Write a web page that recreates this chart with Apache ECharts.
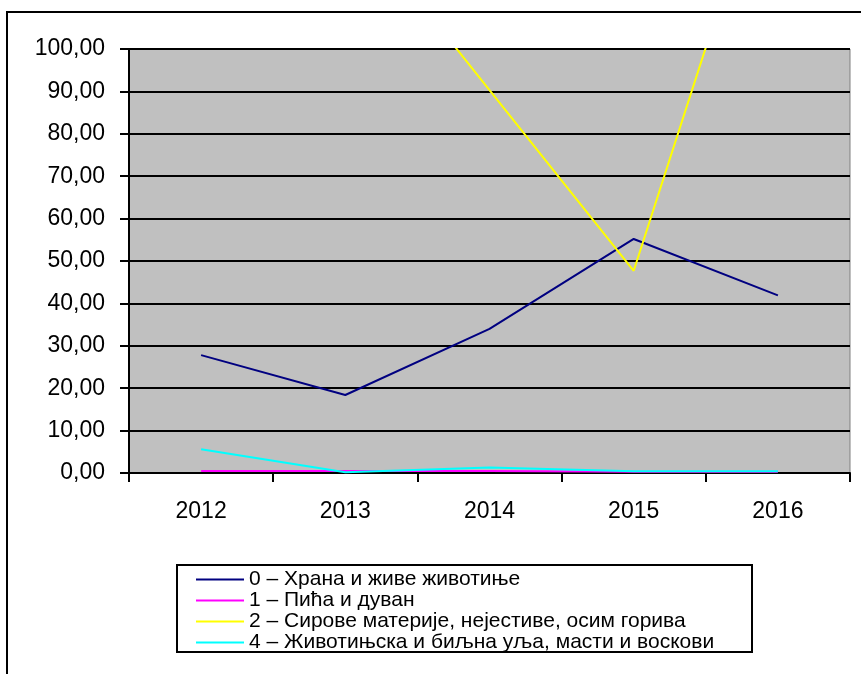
<!DOCTYPE html>
<html>
<head>
<meta charset="utf-8">
<script src="https://cdn.jsdelivr.net/npm/echarts@6/dist/echarts.min.js"></script>
<style>
  html, body { margin: 0; padding: 0; background: #fff; }
  #chart { width: 861px; height: 674px; }
</style>
</head>
<body>
<div id="chart"></div>
<script>
const years = ['2012', '2013', '2014', '2015', '2016']
const food = [27.8, 18.4, 34.0, 55.2, 41.9]
const drinks = [0.5, 0.5, 0.5, 0.3, 0.3]
const rawMaterials = [150, 133, 90.3, 47.7, 153]
const oils = [5.6, 0.2, 1.3, 0.4, 0.4]
const seriesNames = [
  '0 – Храна и живе животиње',
  '1 – Пића и дуван',
  '2 – Сирове материје, нејестиве, осим горива',
  '4 – Животињска и биљна уља, масти и воскови'
]
const colors = ['#000080', '#ff00ff', '#ffff00', '#00ffff']

const font = 'Liberation Sans, Arial, sans-serif'
const chart = echarts.init(document.getElementById('chart'))

function line(name, data, color) {
  return {
    name: name,
    type: 'line',
    data: data,
    symbol: 'none',
    clip: true,
    lineStyle: { color: color, width: 2 },
    itemStyle: { color: color }
  }
}

chart.setOption({
  animation: false,
  backgroundColor: '#fff',
  color: colors,
  graphic: [
    // outer chart frame
    {
      type: 'rect',
      shape: { x: 7, y: 12, width: 900, height: 700 },
      style: { fill: 'none', stroke: '#000', lineWidth: 2 },
      z: 100
    },
    // legend frame
    {
      type: 'rect',
      shape: { x: 177, y: 565, width: 575, height: 87 },
      style: { fill: 'none', stroke: '#000', lineWidth: 2 },
      z: 100
    }
  ],
  grid: {
    left: 129,
    right: 11,
    top: 49,
    bottom: 201,
    show: true,
    backgroundColor: '#c0c0c0',
    borderColor: '#808080',
    borderWidth: 1
  },
  xAxis: {
    type: 'category',
    data: years,
    boundaryGap: true,
    axisLine: { lineStyle: { color: '#000', width: 2 } },
    axisTick: { show: true, length: 9, lineStyle: { color: '#000', width: 2 } },
    axisLabel: { margin: 27, color: '#000', fontSize: 23, fontFamily: font }
  },
  yAxis: {
    type: 'value',
    min: 0,
    max: 100,
    interval: 10,
    axisLine: { show: true, lineStyle: { color: '#000', width: 2 } },
    axisTick: { show: true, length: 9, lineStyle: { color: '#000', width: 2 } },
    axisLabel: {
      margin: 24,
      color: '#000',
      fontSize: 23,
      fontFamily: font,
      formatter: function (v) { return v.toFixed(2).replace('.', ',') }
    },
    splitLine: { show: true, lineStyle: { color: '#000', width: 2 } }
  },
  legend: {
    orient: 'vertical',
    left: 177,
    top: 565,
    height: 100,
    padding: [4, 6, 3, 19],
    itemGap: 0,
    itemWidth: 48,
    itemHeight: 2,
    icon: 'rect',
    textStyle: { color: '#000', fontSize: 21, lineHeight: 20, fontFamily: font },
    data: seriesNames
  },
  series: [
    line(seriesNames[0], food, colors[0]),
    line(seriesNames[1], drinks, colors[1]),
    line(seriesNames[2], rawMaterials, colors[2]),
    line(seriesNames[3], oils, colors[3])
  ]
})
</script>
</body>
</html>
